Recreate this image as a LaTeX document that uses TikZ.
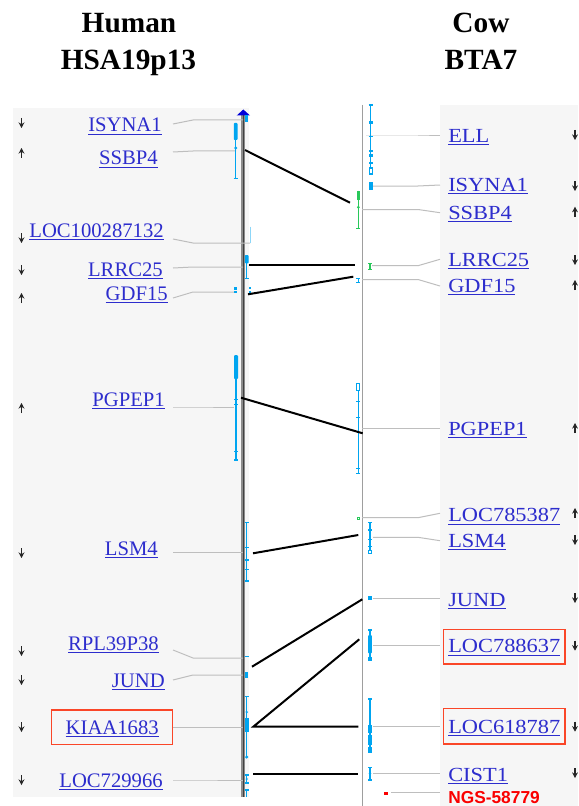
\documentclass[tikz,border=0pt]{standalone}
\usepackage{fontspec}
\setmainfont{Liberation Serif}
\newfontfamily\rfont[FakeStretch=1.12]{Liberation Serif}
\newfontfamily\ngsfont{Liberation Sans}
\usetikzlibrary{arrows.meta}
\definecolor{genec}{RGB}{0,165,240}
\definecolor{greenc}{RGB}{40,200,90}
\definecolor{linkc}{RGB}{45,45,205}
\definecolor{panelc}{RGB}{246,246,246}
\definecolor{leadc}{RGB}{190,190,190}
\definecolor{boxc}{RGB}{250,70,40}
\definecolor{ngsc}{RGB}{250,0,0}
\tikzset{
  hl/.style={font=\fontsize{15.5}{18}\selectfont, text=linkc, inner sep=0pt},
  cl/.style={font=\rfont\fontsize{15}{18}\selectfont, text=linkc, inner sep=0pt},
  head/.style={font=\fontsize{22}{26}\selectfont\bfseries, inner sep=0pt, anchor=base},
  leader/.style={draw=leadc, line width=0.75pt},
  glyphline/.style={draw=genec, line width=1pt},
  glyphgreen/.style={draw=greenc, line width=1pt},
  orth/.style={draw=black, line width=1.5pt},
  arr/.style={draw=black!85, line width=1.3pt, -{Stealth[length=4.2pt,width=4.4pt]}},
  redbox/.style={draw=boxc, line width=1.1pt},
}
\newcommand\hlab[7]{% name,text,rx,baseline,ys,ye,xe
  \node[hl, anchor=base east] (h#1) at (#3,#4) {\underline{#2}};
  \coordinate (h#1s) at (173,#5);
  \coordinate (h#1e) at (#7,#6);
  \draw[leader] (h#1s) -- (193,#6) -- (h#1e);
}
\newcommand\clab[6]{% name,text,baseline,xs,ya,yl
  \node[cl, anchor=base west] (c#1) at (448,#3) {\underline{#2}};
  \coordinate (c#1s) at (#4,#5);
  \coordinate (c#1e) at (440,#6);
  \draw[leader] (c#1s) -- (418,#5) -- (c#1e);
}
\newcommand\adown[2]{\draw[arr] (#1,#2-5) -- (#1,#2+5);}
\newcommand\aup[2]{\draw[arr] (#1,#2+5) -- (#1,#2-5);}
\begin{document}
\begin{tikzpicture}[x=0.75pt,y=-0.75pt]
\useasboundingbox (0,0) rectangle (578,806);
\fill[white] (0,0) rectangle (578,806);
% panels
\fill[panelc] (13,108) rectangle (249,797);
\fill[panelc] (440,105) rectangle (578,806);
% headers
\node[head] (hh1) at (129,33) {Human};
\node[head] (hh2) at (128.5,70) {HSA19p13};
\node[head] (ch1) at (481,33) {Cow};
\node[head] (ch2) at (481,70) {BTA7};
% axes
\draw[line width=3pt, black!45] (243.3,112) -- (243.3,797);
\draw[line width=1pt, black!75] (243.3,112) -- (243.3,797);
\fill[blue!85!black] (236.7,115.5) -- (243.3,109.5) -- (250,115.5) -- cycle;
\draw[line width=1.2pt, black!38] (362.3,105) -- (362.3,806);
% left labels
\hlab{ISYNA1}{ISYNA1}{162}{132}{124}{120}{243}
\hlab{SSBP4}{SSBP4}{158}{165}{152}{151}{236}
\hlab{LOC}{LOC100287132}{164}{237}{239}{243}{250}
\hlab{LRRC25}{LRRC25}{163}{276}{268}{267}{243}
\hlab{GDF15}{GDF15}{168}{300}{298}{292}{234}
\hlab{PGPEP1}{PGPEP1}{165}{406}{407}{407}{234}
\hlab{LSM4}{LSM4}{158}{555}{552.5}{552.5}{243}
\hlab{RPL}{RPL39P38}{159}{650}{650}{658}{243}
\hlab{JUND}{JUND}{165}{687}{680}{675}{243}
\hlab{KIAA}{KIAA1683}{159}{734}{727.5}{727.5}{243}
\hlab{LOCb}{LOC729966}{163}{787}{780}{780}{243}
\draw[redbox] (51.7,710) rectangle (172.3,744.3);
% left arrows
\adown{21.5}{123}\aup{21.5}{153}\adown{21.5}{238}\adown{21.5}{270}\aup{21.5}{298}
\aup{21.5}{408}\adown{21.5}{553}\adown{21.5}{651}\adown{21.5}{680}\adown{21.5}{727}\adown{21.5}{780}
% right labels
\clab{ELL}{ELL}{142.7}{366}{136}{136}
\clab{ISYNA1}{ISYNA1}{191.7}{372}{186}{185}
\clab{SSBP4}{SSBP4}{219}{362}{209.5}{212.7}
\clab{LRRC25}{LRRC25}{266.7}{372}{265.7}{259.3}
\clab{GDF15}{GDF15}{292.7}{362}{279.5}{286}
\clab{PGPEP1}{PGPEP1}{435}{362}{428.3}{428.3}
\clab{LOCa}{LOC785387}{521.7}{362}{517.7}{513.3}
\clab{LSM4}{LSM4}{547}{373}{537.3}{540.7}
\clab{JUND}{JUND}{606}{373}{598.3}{598.3}
\clab{LOCb}{LOC788637}{652.7}{373}{645.7}{645.7}
\clab{LOCc}{LOC618787}{733}{373}{726.7}{726.7}
\clab{CIST1}{CIST1}{781}{373}{773.3}{773.3}
\draw[redbox] (443.3,629.3) rectangle (565,664);
\draw[redbox] (443.3,708.3) rectangle (565,744);
% NGS marker
\node[font=\ngsfont\bfseries\fontsize{13}{15}\selectfont, text=ngsc, inner sep=0pt, anchor=base west] (ngs) at (448,803) {NGS-58779};
\coordinate (ngsdot) at (386,793);
\coordinate (ngse) at (440,792);
\fill[ngsc] (384.3,791.5) rectangle (387.7,794.5);
\draw[leader] (391,792) -- (ngse);
% right arrows
\adown{575}{135}\adown{575}{186}\aup{575}{211.7}\adown{575}{260}\aup{575}{285}
\aup{575}{428}\aup{575}{513}\adown{575}{540}\adown{575}{598}\adown{575}{645.7}\adown{575}{726.7}\adown{575}{773}
% ---------- left gene glyphs ----------
\fill[genec] (244.8,115) rectangle (247.8,122);
% SSBP4
\draw[glyphline] (235.7,123) -- (235.7,178.3);
\fill[genec, rounded corners=0.6pt] (233.9,123) rectangle (237.5,140);
\fill[genec] (235.7,148) circle (1.6);
\draw[glyphline] (233.7,178.3) -- (237.7,178.3);
% LOC100287132
\draw[genec!45, line width=0.5pt] (250,226.7) -- (250,243.3);
% LRRC25
\draw[glyphline] (246.7,255) -- (246.7,278.3);
\fill[genec, rounded corners=0.6pt] (244.9,255) rectangle (248.5,263.3);
\draw[glyphline] (244.7,278.3) -- (248.7,278.3);
% GDF15
\fill[genec] (233.5,286.7) rectangle (236.5,289.5);
\fill[genec] (233.5,290.5) rectangle (236.5,293.3);
\fill[genec] (249.2,286.7) rectangle (250.8,289);
\fill[genec] (249.2,290.5) rectangle (250.8,292.5);
% PGPEP1
\draw[glyphline] (236,355) -- (236,460);
\fill[genec, rounded corners=0.8pt] (234,355) rectangle (238,379.3);
\draw[glyphline] (234,399.3) -- (238,399.3);
\draw[glyphline] (234,404.3) -- (238,404.3);
\draw[glyphline] (234,451.7) -- (238,451.7);
\draw[glyphline] (234,460) -- (238,460);
% LSM4
\draw[glyphline] (246.5,522.7) -- (246.5,582);
\foreach \yy in {522.7,547.7,560,569.3,581} {\draw[glyphline] (244.5,\yy) -- (248.5,\yy);}
% RPL39P38
\draw[glyphline] (244.7,656.7) -- (248.7,656.7);
% JUND
\fill[genec] (245,671.7) rectangle (248.4,678);
% KIAA1683
\draw[glyphline] (246.7,696.7) -- (246.7,758);
\draw[glyphline] (244.7,696.7) -- (248.7,696.7);
\fill[genec] (244.9,718) rectangle (248.5,731.7);
\fill[genec] (246.7,712) circle (1.3);
\fill[genec] (246.7,757) circle (1.7);
% LOC729966
\draw[glyphline] (246.7,775) -- (246.7,783);
\draw[glyphline] (244.7,775) -- (248.7,775);
\draw[glyphline] (244.7,783) -- (248.7,783);
\fill[genec] (246.7,779) circle (1.2);
\draw[glyphline] (246.7,790) -- (246.7,797);
\draw[glyphline] (244.7,790) -- (248.7,790);
% ---------- right gene glyphs ----------
% ELL
\draw[glyphline] (370.7,105) -- (370.7,168);
\draw[glyphline] (368.7,105) -- (372.7,105);
\fill[genec] (368.9,121) rectangle (372.5,124.5);
\draw[glyphline] (368.7,136.7) -- (372.7,136.7);
\fill[genec] (368.9,150) rectangle (372.5,152.5);
\fill[genec] (368.9,154.5) rectangle (372.5,157);
\fill[genec] (368.9,162) rectangle (372.5,164.5);
\draw[genec, line width=0.8pt] (369.3,168) rectangle (372.1,174);
% ISYNA1
\fill[genec] (368.7,181.7) rectangle (372.9,190);
% SSBP4 green
\draw[glyphgreen] (358.3,190.7) -- (358.3,228.3);
\fill[greenc] (356.5,190.7) rectangle (360.1,200);
\fill[greenc] (358.3,207.3) circle (1.5);
\draw[glyphgreen] (356.3,228.3) -- (360.3,228.3);
% LRRC25 green
\draw[glyphgreen] (370,263.3) -- (370,269.3);
\draw[glyphgreen] (368,263.3) -- (372,263.3);
\draw[glyphgreen] (368,269.3) -- (372,269.3);
% GDF15 blue
\draw[glyphline] (358.3,278.3) -- (358.3,282.7);
\draw[glyphline] (356.3,278.3) -- (360.3,278.3);
\draw[glyphline] (356.3,282.7) -- (360.3,282.7);
% PGPEP1
\draw[glyphline] (358.3,390.7) -- (358.3,473.3);
\draw[genec, line width=0.8pt] (356.9,383.3) rectangle (359.7,390.7);
\foreach \yy in {401.7,417.3,468.3,473.3} {\draw[glyphline] (356.3,\yy) -- (360.3,\yy);}
% LOC785387 green
\draw[greenc, line width=0.6pt] (357,517) rectangle (359.6,519.6);
% LSM4
\draw[glyphline] (370,522.7) -- (370,551);
\foreach \yy in {522.7,530,539.3,546.7} {\draw[glyphline] (368,\yy) -- (372,\yy);}
\draw[genec, line width=0.7pt] (368.5,550.5) rectangle (371.5,553.5);
% JUND
\fill[genec] (368,596.3) rectangle (372,600.3);
% LOC788637
\draw[glyphline] (370,630) -- (370,660.7);
\draw[glyphline] (368,630) -- (372,630);
\fill[genec, rounded corners=0.6pt] (368.2,635) rectangle (371.8,653.3);
\fill[genec] (368.2,657) rectangle (371.8,660.7);
% LOC618787
\draw[glyphline] (370,699) -- (370,753.3);
\draw[glyphline] (368,699) -- (372,699);
\fill[genec] (368.2,725) rectangle (371.8,733);
\fill[genec] (368.2,735) rectangle (371.8,745);
\fill[genec] (368.2,747) rectangle (371.8,753.3);
% CIST1
\draw[glyphline] (370,767.3) -- (370,780);
\draw[glyphline] (368,767.3) -- (372,767.3);
\draw[glyphline] (368,780) -- (372,780);
\fill[genec] (370,773.5) circle (1.3);
% ---------- orthology links ----------
\coordinate (oh1) at (245,150);   \coordinate (oc1) at (350,202.7);
\coordinate (oh2) at (249,265);   \coordinate (oc2) at (355,265);
\coordinate (oh3) at (248,294.3); \coordinate (oc3) at (353.3,276.7);
\coordinate (oh4) at (241,397.7); \coordinate (oc4) at (362.7,433.3);
\coordinate (oh5) at (253,553.3); \coordinate (oc5) at (358.3,535);
\coordinate (oh6) at (252,666.7); \coordinate (oc6) at (362.3,599.3);
\coordinate (oh7) at (253.3,726.7); \coordinate (oc7) at (359.3,639.3);
\coordinate (oc8) at (358.3,726.7);
\coordinate (oh9) at (253,774.3); \coordinate (oc9) at (358.3,774.3);
\draw[orth] (oh1) -- (oc1);
\draw[orth] (oh2) -- (oc2);
\draw[orth] (oh3) -- (oc3);
\draw[orth] (oh4) -- (oc4);
\draw[orth] (oh5) -- (oc5);
\draw[orth] (oh6) -- (oc6);
\draw[orth] (oc7) -- (oh7) -- (oc8);
\draw[orth] (oh9) -- (oc9);
\end{tikzpicture}
\end{document}
